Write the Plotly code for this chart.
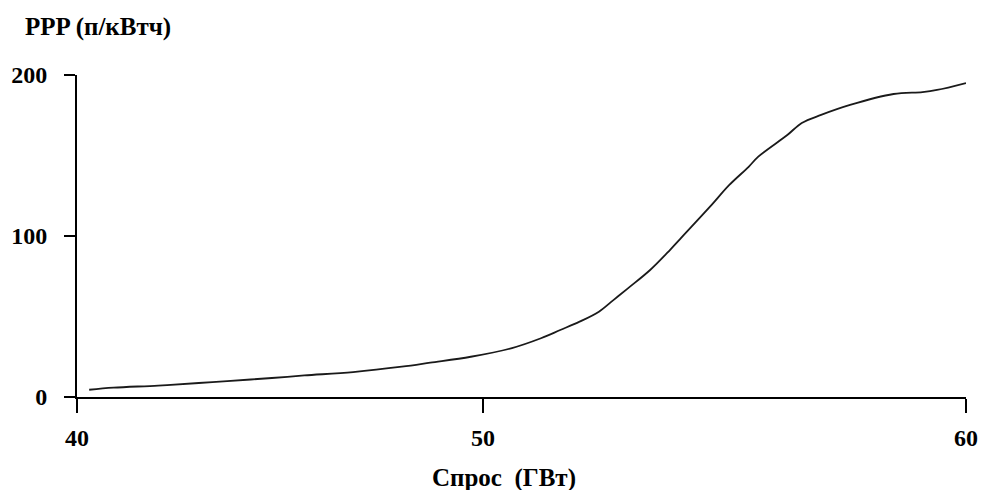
import plotly.graph_objects as go

# Demand (GW) and price (p/kWh)
demand_gw = [40.3, 40.9, 42.0, 43.0, 43.7, 44.8, 45.6, 46.8, 48.0, 48.7, 49.7,
             50.6, 51.2, 51.6, 52.0, 52.4, 52.7, 53.0, 53.46, 53.87, 54.08, 54.7,
             55.1, 55.5, 55.7, 56.3, 56.6, 57.0, 57.6, 58.5, 59.1, 59.4, 60.0]
price_p_kwh = [4.5, 5.8, 7.1, 8.7, 9.9, 11.8, 13.4, 15.5, 18.8, 21.3, 25.0,
               30.4, 36.5, 41.6, 46.8, 53.0, 60.2, 67.5, 78.9, 91.3, 98.1, 118.2,
               131.7, 143.0, 149.3, 162.7, 170.2, 175.2, 181.4, 188.2, 189.4, 190.7, 195.0]
x_ticks = [40, 50, 60]
x_tick_labels = ["40", "50", "60"]
y_ticks = [0, 100, 200]
y_tick_labels = ["0", "100", "200"]

# The original drawing has an uneven demand axis: 40-50 is shorter than 50-60.
# Map data values onto that drawn scale (piecewise linear between the ticks).
drawn_pos = [40.0, 40.0 + 20.0 * 406.0 / 889.0, 60.0]


def to_axis(v):
    for i in range(len(x_ticks) - 1):
        a, b = x_ticks[i], x_ticks[i + 1]
        if v <= b or i == len(x_ticks) - 2:
            return drawn_pos[i] + (v - a) * (drawn_pos[i + 1] - drawn_pos[i]) / (b - a)


fig = go.Figure()
fig.add_trace(go.Scatter(
    x=[to_axis(v) for v in demand_gw], y=price_p_kwh, mode="lines",
    line=dict(color="#1a1a1a", width=1.8, shape="spline", smoothing=1.0),
    hoverinfo="skip", showlegend=False))

tickfont = dict(family="Liberation Serif", size=24, color="black", weight="bold")
titlefont = dict(family="Liberation Serif", size=25, color="black", weight="bold")

fig.update_layout(
    width=982, height=490,
    margin=dict(l=77, r=16, t=75, b=93),
    paper_bgcolor="white", plot_bgcolor="white",
    xaxis=dict(range=[40, 60], tickvals=[to_axis(v) for v in x_ticks], ticktext=x_tick_labels,
               showline=True, linecolor="black", linewidth=2, ticks="outside",
               ticklen=14, tickwidth=2, tickcolor="black", showgrid=False, zeroline=False,
               tickfont=tickfont, ticklabelstandoff=4, automargin=False),
    yaxis=dict(range=[0, 200], tickvals=y_ticks, ticktext=y_tick_labels,
               showline=True, linecolor="black", linewidth=2, ticks="outside",
               ticklen=11, tickwidth=2, tickcolor="black", showgrid=False, zeroline=False,
               tickfont=tickfont, ticklabelstandoff=12, automargin=False),
    annotations=[
        dict(text="PPP (п/кВтч)", xref="paper", yref="paper", x=-0.0607, y=1.149,
             xanchor="left", yanchor="middle", showarrow=False, font=titlefont),
        dict(text="Спрос  (ГВт)", xref="paper", yref="paper", x=0.4803, y=-0.2516,
             xanchor="center", yanchor="middle", showarrow=False, font=titlefont),
    ],
)

fig.write_html("out.html", config={"displayModeBar": False},
               post_script="document.body.style.margin='0';document.body.style.overflow='hidden';")
